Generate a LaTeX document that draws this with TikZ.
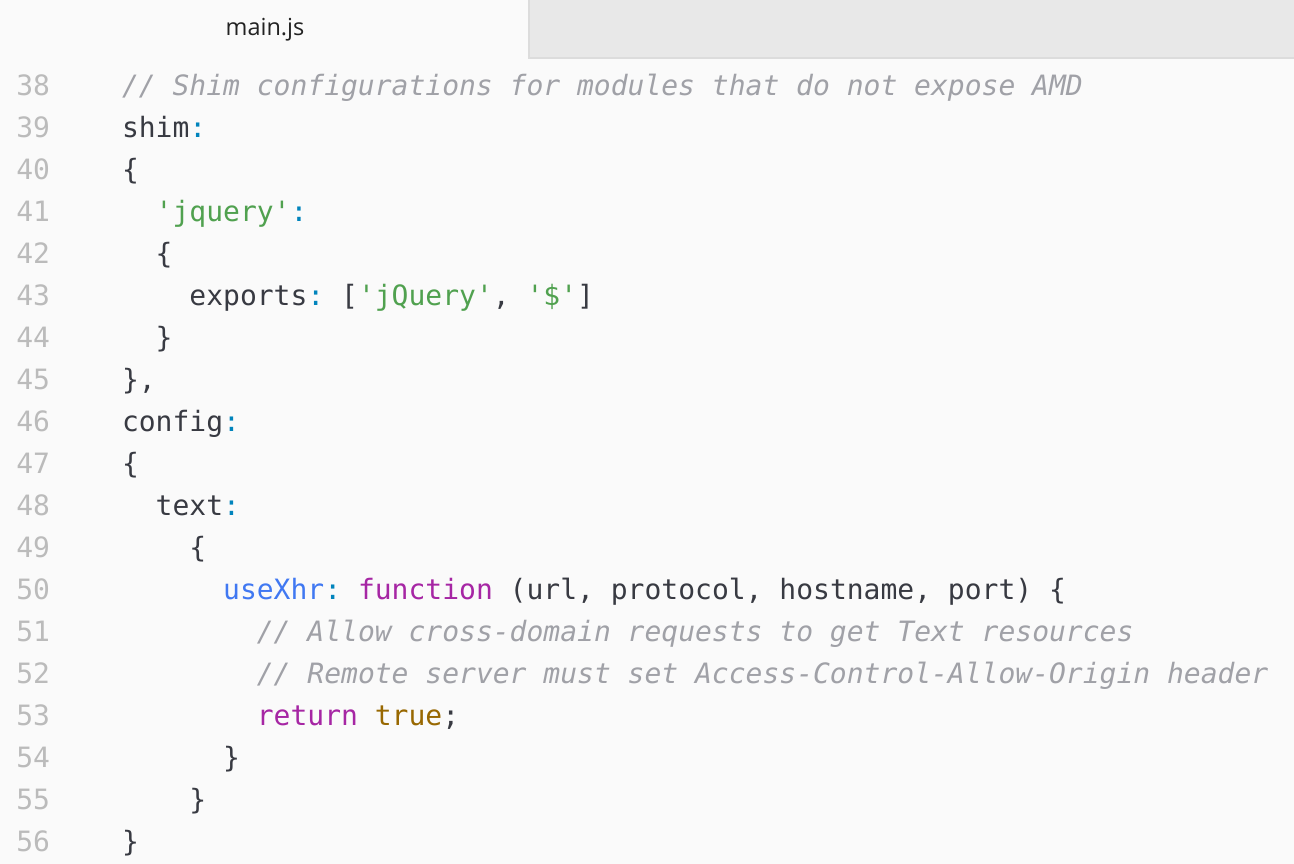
\documentclass[tikz,border=0pt]{standalone}
\usepackage{fontspec}
\setmonofont{DejaVu Sans Mono}
\newfontfamily\tabfont{Open Sans}
\definecolor{bg}{HTML}{FAFAFA}
\definecolor{tabgray}{HTML}{E8E8E8}
\definecolor{tabline}{HTML}{DCDCDC}
\definecolor{fg}{HTML}{383A42}
\definecolor{tabfg}{HTML}{222222}
\definecolor{cmt}{HTML}{A0A1A7}
\definecolor{lnc}{HTML}{BBBBBB}
\definecolor{cyan}{HTML}{0184BC}
\definecolor{grn}{HTML}{50A14F}
\definecolor{blu}{HTML}{4078F2}
\definecolor{pur}{HTML}{A626A4}
\definecolor{org}{HTML}{986801}
\newcommand\cC[1]{\textcolor{cyan}{#1}}
\newcommand\cS[1]{\textcolor{grn}{#1}}
\newcommand\cK[1]{\textcolor{pur}{#1}}
\newcommand\cM[1]{\textcolor{cmt}{\itshape #1}}
\begin{document}
\begin{tikzpicture}[x=1pt,y=-1pt,
  every node/.style={inner sep=0pt,outer sep=0pt},
  code/.style={anchor=base west,font=\ttfamily\fontsize{28}{28}\selectfont,text=fg},
  lnum/.style={anchor=base east,font=\ttfamily\fontsize{28}{28}\selectfont,text=lnc},
  tablabel/.style={anchor=base,font=\tabfont\fontsize{23.5}{23.5}\selectfont,text=tabfg}]
\useasboundingbox (0,0) rectangle (1294,864);
\fill[bg] (0,0) rectangle (1294,864);
\fill[tabgray] (528,0) rectangle (1294,57);
\draw[tabline,line width=2pt] (529,0) -- (529,58) -- (1294,58);
\node[tablabel] (tab) at (265,36) {main.js};
% line numbers
\foreach \n in {38,...,56}{
  \node[lnum] (n\n) at (50,{95.5+(\n-38)*42}) {\n};
}
\def\cw{16.86}
\def\ox{122}
\node[code] (c38) at (\ox,95.5)  {\cM{// Shim configurations for modules that do not expose AMD}};
\node[code] (c39) at (\ox,137.5) {shim\cC{:}};
\node[code] (c40) at (\ox,179.5) {\{};
\node[code] (c41) at ({\ox+2*\cw},221.5) {\cS{'jquery'}\cC{:}};
\node[code] (c42) at ({\ox+2*\cw},263.5) {\{};
\node[code] (c43) at ({\ox+4*\cw},305.5) {exports\cC{:} [\cS{'jQuery'}, \cS{'\$'}]};
\node[code] (c44) at ({\ox+2*\cw},347.5) {\}};
\node[code] (c45) at (\ox,389.5) {\},};
\node[code] (c46) at (\ox,431.5) {config\cC{:}};
\node[code] (c47) at (\ox,473.5) {\{};
\node[code] (c48) at ({\ox+2*\cw},515.5) {text\cC{:}};
\node[code] (c49) at ({\ox+4*\cw},557.5) {\{};
\node[code] (c50) at ({\ox+6*\cw},599.5) {\textcolor{blu}{useXhr}\cC{:} \cK{function} (url, protocol, hostname, port) \{};
\node[code] (c51) at ({\ox+8*\cw},641.5) {\cM{// Allow cross-domain requests to get Text resources}};
\node[code] (c52) at ({\ox+8*\cw},683.5) {\cM{// Remote server must set Access-Control-Allow-Origin header}};
\node[code] (c53) at ({\ox+8*\cw},725.5) {\cK{return} \textcolor{org}{true};};
\node[code] (c54) at ({\ox+6*\cw},767.5) {\}};
\node[code] (c55) at ({\ox+4*\cw},809.5) {\}};
\node[code] (c56) at (\ox,851.5) {\}};
\end{tikzpicture}
\end{document}
